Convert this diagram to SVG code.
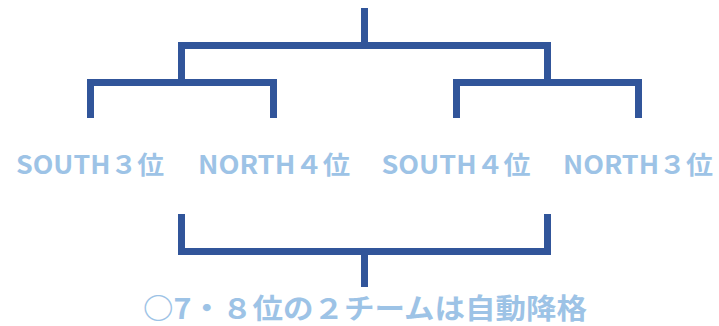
<svg xmlns="http://www.w3.org/2000/svg" width="719" height="326" viewBox="0 0 719 326">
<style>
.ln{fill:none;stroke:#31559A;stroke-width:7;stroke-linecap:butt;stroke-linejoin:miter}
.lb{font-family:"Noto Sans CJK JP","Noto Sans",sans-serif;font-weight:bold;fill:#9DC3E6;text-anchor:middle}
</style>
<rect width="719" height="326" fill="#fff"/>
<g id="connectors">
<path class="ln" d="M364.5,8 V45.5"/>
<path class="ln" d="M181.5,83 V45.5 H547.5 V83"/>
<path class="ln" d="M90.5,118 V82.5 H273.5 V118"/>
<path class="ln" d="M456.5,118 V82.5 H638.5 V118"/>
<path class="ln" d="M181.5,214 V251.5 H547.5 V214"/>
<path class="ln" d="M364.5,251.5 V287"/>
</g>
<g id="south3"><text class="lb" x="90" y="174" font-size="25" textLength="148" lengthAdjust="spacingAndGlyphs">SOUTH３位</text></g>
<g id="north4"><text class="lb" x="274" y="174" font-size="25" textLength="152" lengthAdjust="spacingAndGlyphs">NORTH４位</text></g>
<g id="south4"><text class="lb" x="456" y="174" font-size="25" textLength="149" lengthAdjust="spacingAndGlyphs">SOUTH４位</text></g>
<g id="north3"><text class="lb" x="638" y="174" font-size="25" textLength="150" lengthAdjust="spacingAndGlyphs">NORTH３位</text></g>
<g id="note"><text class="lb" x="365" y="319" font-size="28" textLength="444" lengthAdjust="spacingAndGlyphs">○7・８位の２チームは自動降格</text></g>
</svg>
